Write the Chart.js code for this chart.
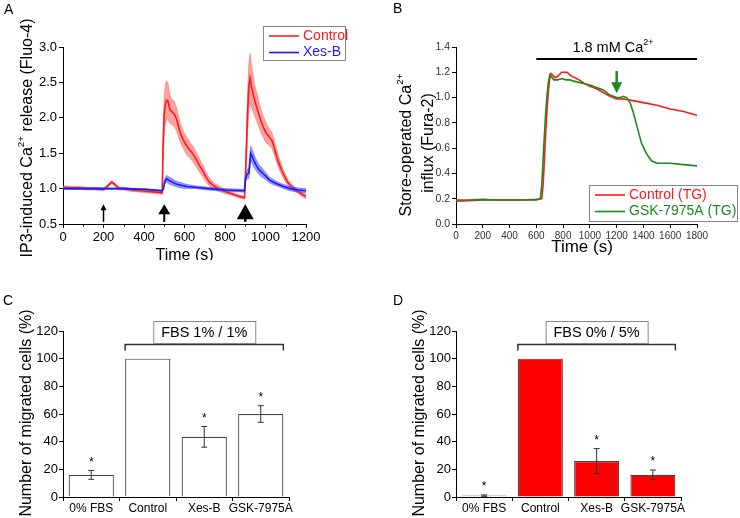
<!DOCTYPE html>
<html>
<head>
<meta charset="utf-8">
<script src="https://cdn.jsdelivr.net/npm/chart.js@4.4.1/dist/chart.umd.min.js"></script>
<style>
  body { margin: 0; background: #fff; }
  #wrap { position: relative; width: 740px; height: 518px; }
  canvas { position: absolute; }
</style>
</head>
<body>
<div id="wrap">
  <canvas id="chartA" width="370" height="260" style="left:0;top:0"></canvas>
  <canvas id="chartB" width="370" height="260" style="left:370px;top:0"></canvas>
  <canvas id="chartC" width="370" height="258" style="left:0;top:260px"></canvas>
  <canvas id="chartD" width="370" height="258" style="left:370px;top:260px"></canvas>
</div>
<script>
const FONT = '"Liberation Sans", Arial, Helvetica, sans-serif';

// ---------- Panel A : IP3-induced release ----------
const timeCtrlA = [0, 40, 80, 120, 160, 200, 215, 228, 240, 252, 265, 280, 300, 340, 380, 420, 460, 490,
  494, 500, 506, 512, 518, 525, 532, 540, 550, 561, 570, 580, 592, 605, 617, 630, 644, 660, 677, 690,
  705, 718, 735, 750, 770, 790, 810, 830, 850, 870, 896,
  900, 906, 912, 918, 924, 930, 938, 946, 956, 966, 978, 989, 1000, 1010, 1021, 1032, 1043, 1055,
  1066, 1077, 1088, 1100, 1110, 1121, 1140, 1160, 1180, 1200];
const ctrlA = [1.02, 1.01, 1.01, 1.00, 1.00, 0.99, 1.02, 1.06, 1.09, 1.07, 1.03, 1.00, 1.00, 0.98, 0.97, 0.96, 0.95, 0.94,
  1.60, 2.05, 2.20, 2.25, 2.24, 2.15, 2.10, 2.08, 2.05, 1.98, 1.88, 1.78, 1.70, 1.63, 1.58, 1.53, 1.48, 1.40, 1.31, 1.25,
  1.17, 1.11, 1.06, 1.03, 1.00, 0.97, 0.95, 0.93, 0.91, 0.89, 0.87,
  1.10, 1.60, 2.10, 2.45, 2.56, 2.45, 2.35, 2.25, 2.16, 2.06, 1.95, 1.87, 1.80, 1.76, 1.72, 1.68, 1.58, 1.46,
  1.36, 1.28, 1.21, 1.14, 1.09, 1.05, 1.00, 0.96, 0.92, 0.89];
const ctrlErrA = [.02, .02, .02, .02, .02, .02, .02, .02, .02, .02, .02, .02, .02, .02, .02, .02, .02, .02,
  .20, .25, .27, .27, .25, .22, .18, .18, .18, .16, .15, .13, .12, .12, .12, .11, .11, .10, .09, .08,
  .07, .06, .05, .04, .04, .03, .03, .02, .02, .02, .02,
  .10, .20, .28, .32, .35, .30, .25, .22, .20, .18, .16, .15, .14, .13, .12, .11, .10, .09,
  .08, .07, .06, .05, .04, .04, .03, .03, .03, .03];

const timeXesA = [0, 100, 200, 300, 400, 490, 496, 502, 512, 520, 535, 555, 578, 610, 650, 718, 800, 896,
  900, 908, 918, 922, 927, 935, 945, 956, 967, 978, 989, 1000, 1020, 1040, 1055, 1080, 1100, 1121, 1160, 1200];
const xesA = [1.00, 1.00, 1.00, 1.00, 0.99, 0.97, 1.00, 1.10, 1.14, 1.12, 1.10, 1.07, 1.05, 1.03, 1.02, 1.00, 0.98, 0.97,
  1.12, 1.20, 1.22, 1.35, 1.50, 1.45, 1.38, 1.32, 1.27, 1.24, 1.21, 1.18, 1.12, 1.09, 1.07, 1.04, 1.02, 1.00, 0.98, 0.97];
const xesErrA = [.01, .01, .01, .01, .01, .01, .02, .04, .05, .05, .05, .04, .04, .03, .02, .02, .02, .02,
  .04, .06, .08, .10, .10, .10, .09, .08, .07, .07, .06, .05, .04, .04, .03, .03, .03, .03, .03, .03];

const arrowTimesA = [200, 500, 900];

// ---------- Panel B : store-operated influx ----------
const timeCtrlB = [0, 100, 200, 300, 400, 500, 600, 640, 650, 660, 670, 680, 690, 700, 710, 720, 735, 750, 770, 790,
  810, 830, 850, 880, 920, 960, 1000, 1050, 1100, 1150, 1200, 1250, 1300, 1400, 1500, 1600, 1700, 1800];
const ctrlB = [0.18, 0.185, 0.19, 0.19, 0.19, 0.19, 0.19, 0.20, 0.30, 0.50, 0.72, 0.90, 1.05, 1.15, 1.19, 1.18, 1.16, 1.16, 1.18, 1.20,
  1.20, 1.20, 1.18, 1.16, 1.14, 1.11, 1.09, 1.07, 1.04, 1.01, 0.99, 0.99, 0.98, 0.96, 0.94, 0.91, 0.89, 0.86];
const timeGskB = [0, 100, 200, 300, 400, 500, 600, 630, 640, 650, 660, 670, 680, 690, 700, 715, 730, 760, 790, 820,
  850, 880, 920, 960, 1000, 1050, 1100, 1150, 1200, 1230, 1250, 1275, 1300, 1325, 1350, 1385, 1420, 1460, 1500,
  1550, 1600, 1700, 1800];
const gskB = [0.19, 0.19, 0.195, 0.19, 0.19, 0.19, 0.195, 0.20, 0.30, 0.50, 0.70, 0.88, 1.02, 1.12, 1.18, 1.16, 1.14, 1.14, 1.15, 1.14,
  1.14, 1.13, 1.12, 1.11, 1.10, 1.08, 1.06, 1.02, 1.00, 1.00, 1.01, 1.00, 0.96, 0.88, 0.78, 0.64, 0.56, 0.50, 0.48,
  0.48, 0.48, 0.47, 0.46];
const caBarB = [600, 1800, 1.305];   // start, end, level
const arrowB = [1200, 1.21, 1.035];  // time, top, tip

// ---------- Panels C / D : migration ----------
const groups = ['0% FBS', 'Control', 'Xes-B', 'GSK-7975A'];
const migC = [16, 100, 43.5, 60];
const migErrC = [3.2, 0, 7.5, 6];
const migD = [1, 100, 26, 16];
const migErrD = [0.5, 0, 9, 3.5];
const starred = [true, false, true, true];

function pts(xs, ys) { return xs.map((x, i) => ({ x: x, y: ys[i] })); }
function band(xs, ys, es, s) { return xs.map((x, i) => ({ x: x, y: ys[i] + s * es[i] })); }

function rich(ctx, segs, x, y, size, color, align) {
  const sup = size * 0.62;
  let w = 0;
  segs.forEach(s => { ctx.font = (s[1] ? sup : size) + 'px ' + FONT; w += ctx.measureText(s[0]).width; });
  let cx = align === 'left' ? x : x - w / 2;
  ctx.fillStyle = color; ctx.textAlign = 'left'; ctx.textBaseline = 'middle';
  segs.forEach(s => {
    ctx.font = (s[1] ? sup : size) + 'px ' + FONT;
    ctx.fillText(s[0], cx, s[1] ? y - size * 0.4 : y);
    cx += ctx.measureText(s[0]).width;
  });
}
function richV(ctx, segs, x, y, size) {
  ctx.save(); ctx.translate(x, y); ctx.rotate(-Math.PI / 2);
  rich(ctx, segs, 0, 0, size, '#000', 'center');
  ctx.restore();
}
function letter(ctx, t, x, y) {
  ctx.font = '14px ' + FONT; ctx.fillStyle = '#000'; ctx.textAlign = 'left'; ctx.textBaseline = 'top';
  ctx.fillText(t, x, y);
}
function legendBox(ctx, x, y, w, h, items) {
  ctx.fillStyle = '#fff'; ctx.fillRect(x, y, w, h);
  ctx.strokeStyle = '#888'; ctx.lineWidth = 1; ctx.strokeRect(x + 0.5, y + 0.5, w, h);
  items.forEach((it, i) => {
    const ly = y + 10 + i * 16.5;
    ctx.strokeStyle = it[1]; ctx.lineWidth = 1.6;
    ctx.beginPath(); ctx.moveTo(x + 6, ly); ctx.lineTo(x + 36, ly); ctx.stroke();
    ctx.font = '14px ' + FONT; ctx.fillStyle = it[1]; ctx.textAlign = 'left'; ctx.textBaseline = 'middle';
    ctx.fillText(it[0], x + 40, ly);
  });
}

function linScale(min, max, step, size, color, dec, fit, isY) {
  return {
    type: 'linear', min: min, max: max,
    border: { color: '#000', width: 1 },
    grid: { drawOnChartArea: false, drawTicks: true, tickLength: 4, color: '#000' },
    ticks: {
      stepSize: step, autoSkip: false, maxRotation: 0, minRotation: 0, padding: 2,
      color: color, font: { family: FONT, size: size },
      callback: v => v.toFixed(dec)
    },
    afterFit: s => { if (isY) s.width = fit; else s.height = fit; }
  };
}

// ---------- Chart A ----------
const extrasA = {
  id: 'extrasA',
  afterDraw(chart) {
    const ctx = chart.ctx, xs = chart.scales.x, ys = chart.scales.y, a = chart.chartArea;
    ctx.save();
    // minor ticks
    ctx.strokeStyle = '#000'; ctx.lineWidth = 1;
    for (let t = 100; t < 1200; t += 200) {
      const x = Math.round(xs.getPixelForValue(t)) + 0.5;
      ctx.beginPath(); ctx.moveTo(x, a.bottom); ctx.lineTo(x, a.bottom + 2.5); ctx.stroke();
    }
    // stimulus arrows
    const sizes = [[6, 6, 1.5], [10, 12, 2], [15, 17, 2.5]];
    const tip = ys.getPixelForValue(0.78), base = ys.getPixelForValue(0.53);
    arrowTimesA.forEach((t, i) => {
      const x = xs.getPixelForValue(t), h = sizes[i][0], w = sizes[i][1];
      ctx.strokeStyle = '#000'; ctx.fillStyle = '#000'; ctx.lineWidth = sizes[i][2];
      ctx.beginPath(); ctx.moveTo(x, base); ctx.lineTo(x, tip + h - 1); ctx.stroke();
      ctx.beginPath(); ctx.moveTo(x, tip); ctx.lineTo(x - w / 2, tip + h); ctx.lineTo(x + w / 2, tip + h);
      ctx.closePath(); ctx.fill();
    });
    legendBox(ctx, 263, 26, 82, 34, [['Control', '#ff1a1a'], ['Xes-B', '#1a1aff']]);
    richV(ctx, [['IP3-induced Ca', 0], ['2+', 1], [' release (Fluo-4)', 0]], 28, 138, 16);
    rich(ctx, [['Time (s)', 0]], (a.left + a.right) / 2, 256, 16, '#000', 'center');
    letter(ctx, 'A', 4, 3);
    ctx.restore();
  }
};

new Chart(document.getElementById('chartA'), {
  type: 'line',
  data: {
    datasets: [
      { data: pts(timeXesA, xesA), borderColor: '#1a1aff', borderWidth: 1.6, pointRadius: 0, fill: false },
      { data: band(timeXesA, xesA, xesErrA, 1), borderWidth: 0.6, borderColor: 'rgba(80,80,255,0.8)', pointRadius: 0, fill: false },
      { data: band(timeXesA, xesA, xesErrA, -1), borderWidth: 0.6, borderColor: 'rgba(80,80,255,0.8)', pointRadius: 0,
        fill: { target: 1 }, backgroundColor: 'rgba(70,70,255,0.55)' },
      { data: pts(timeCtrlA, ctrlA), borderColor: '#ff1a1a', borderWidth: 1.6, pointRadius: 0, fill: false },
      { data: band(timeCtrlA, ctrlA, ctrlErrA, 1), borderWidth: 0.6, borderColor: 'rgba(255,80,80,0.8)', pointRadius: 0, fill: false },
      { data: band(timeCtrlA, ctrlA, ctrlErrA, -1), borderWidth: 0.6, borderColor: 'rgba(255,80,80,0.8)', pointRadius: 0,
        fill: { target: 4 }, backgroundColor: 'rgba(255,70,70,0.5)' }
    ]
  },
  options: {
    responsive: false, animation: false,
    layout: { padding: { left: 0, top: 47, right: 64, bottom: 0 } },
    plugins: { legend: { display: false }, tooltip: { enabled: false } },
    scales: {
      x: linScale(0, 1200, 200, 13, '#000', 0, 36, false),
      y: linScale(0.5, 3.0, 0.5, 13, '#000', 1, 63, true)
    }
  },
  plugins: [extrasA]
});

// ---------- Chart B ----------
const extrasB = {
  id: 'extrasB',
  afterDraw(chart) {
    const ctx = chart.ctx, xs = chart.scales.x, ys = chart.scales.y, a = chart.chartArea;
    ctx.save();
    const yb = ys.getPixelForValue(caBarB[2]);
    ctx.strokeStyle = '#000'; ctx.lineWidth = 2;
    ctx.beginPath(); ctx.moveTo(xs.getPixelForValue(caBarB[0]), yb); ctx.lineTo(xs.getPixelForValue(caBarB[1]), yb); ctx.stroke();
    rich(ctx, [['1.8 mM Ca', 0], ['2+', 1]], 243, yb - 11, 14.5, '#000', 'center');
    // arrow
    const ax = xs.getPixelForValue(arrowB[0]), top = ys.getPixelForValue(arrowB[1]), tip = ys.getPixelForValue(arrowB[2]);
    ctx.strokeStyle = '#1c8a1c'; ctx.fillStyle = '#1c8a1c'; ctx.lineWidth = 2.5;
    ctx.beginPath(); ctx.moveTo(ax, top); ctx.lineTo(ax, tip - 9); ctx.stroke();
    ctx.beginPath(); ctx.moveTo(ax, tip); ctx.lineTo(ax - 5.5, tip - 11); ctx.lineTo(ax + 5.5, tip - 11); ctx.closePath(); ctx.fill();
    legendBox(ctx, 219, 185, 148, 36, [['Control (TG)', '#ff1a1a'], ['GSK-7975A (TG)', '#1c8a1c']]);
    richV(ctx, [['Store-operated Ca', 0], ['2+', 1]], 36.5, 145, 16);
    richV(ctx, [['influx (Fura-2)', 0]], 59, 143, 16);
    rich(ctx, [['Time (s)', 0]], 212, 247, 17, '#000', 'center');
    letter(ctx, 'B', 23, 2);
    ctx.restore();
  }
};

new Chart(document.getElementById('chartB'), {
  type: 'line',
  data: {
    datasets: [
      { data: pts(timeGskB, gskB), borderColor: '#1c8a1c', borderWidth: 1.6, pointRadius: 0, fill: false },
      { data: pts(timeCtrlB, ctrlB), borderColor: '#ff1a1a', borderWidth: 1.6, pointRadius: 0, fill: false }
    ]
  },
  options: {
    responsive: false, animation: false,
    layout: { padding: { left: 0, top: 47, right: 43, bottom: 0 } },
    plugins: { legend: { display: false }, tooltip: { enabled: false } },
    scales: {
      x: linScale(0, 1800, 200, 10, '#333', 0, 36, false),
      y: linScale(0, 1.4, 0.2, 10.5, '#333', 1, 86, true)
    }
  },
  plugins: [extrasB]
});

// ---------- Charts C / D ----------
function migChart(id, vals, errs, fills, boxText, yTitleX, letterX) {
  const extras = {
    id: 'extras' + id,
    afterDraw(chart) {
      const ctx = chart.ctx, ys = chart.scales.y, a = chart.chartArea;
      const bars = chart.getDatasetMeta(0).data;
      ctx.save();
      ctx.strokeStyle = '#333'; ctx.lineWidth = 1;
      bars.forEach((b, i) => {
        if (errs[i] > 0) {
          const hi = ys.getPixelForValue(vals[i] + errs[i]), lo = ys.getPixelForValue(vals[i] - errs[i]);
          ctx.beginPath();
          ctx.moveTo(b.x, hi); ctx.lineTo(b.x, lo);
          ctx.moveTo(b.x - 3, hi); ctx.lineTo(b.x + 3, hi);
          ctx.moveTo(b.x - 3, lo); ctx.lineTo(b.x + 3, lo);
          ctx.stroke();
        }
        if (starred[i]) {
          const hi = ys.getPixelForValue(vals[i] + errs[i]);
          ctx.font = '12px ' + FONT; ctx.fillStyle = '#000'; ctx.textAlign = 'center'; ctx.textBaseline = 'middle';
          ctx.fillText('*', b.x, hi - 8);
        }
      });
      // bracket
      const x0 = bars[1].x - bars[1].width / 2, x1 = bars[3].x + bars[3].width / 2, yb = a.top + 13.5;
      ctx.strokeStyle = '#333'; ctx.lineWidth = 1.5;
      ctx.beginPath(); ctx.moveTo(x0, yb + 6); ctx.lineTo(x0, yb); ctx.lineTo(x1, yb); ctx.lineTo(x1, yb + 6); ctx.stroke();
      const cx = (x0 + x1) / 2;
      ctx.fillStyle = '#fff'; ctx.fillRect(cx - 51, a.top - 10, 102, 22);
      ctx.strokeStyle = '#888'; ctx.lineWidth = 1; ctx.strokeRect(cx - 51 + 0.5, a.top - 10 + 0.5, 102, 22);
      rich(ctx, [[boxText, 0]], cx, a.top + 1.5, 14.5, '#000', 'center');
      richV(ctx, [['Number of migrated cells (%)', 0]], yTitleX, (a.top + a.bottom) / 2 - 1, 16);
      letter(ctx, id, letterX, 34);
      ctx.restore();
    }
  };
  const leftW = id === 'C' ? 63 : 86;
  const rightPad = id === 'C' ? 81 : 59;
  const yS = linScale(0, 120, 20, 13, '#000', 0, leftW, true);
  yS.ticks.padding = 1;
  new Chart(document.getElementById('chart' + id), {
    type: 'bar',
    data: {
      labels: groups,
      datasets: [{
        data: vals, backgroundColor: fills, borderColor: '#444', borderWidth: 1.2,
        categoryPercentage: 1.0, barPercentage: 0.8
      }]
    },
    options: {
      responsive: false, animation: false,
      layout: { padding: { left: 0, top: 71, right: rightPad, bottom: 0 } },
      plugins: { legend: { display: false }, tooltip: { enabled: false } },
      scales: {
        x: {
          border: { color: '#000', width: 1 },
          grid: { drawOnChartArea: false, drawTicks: true, tickLength: 4, color: '#000', offset: true },
          ticks: { color: '#000', font: { family: FONT, size: 12 }, padding: 0, maxRotation: 0, autoSkip: false },
          afterFit: s => { s.height = 21; }
        },
        y: yS
      }
    },
    plugins: [extras]
  });
}

migChart('C', migC, migErrC, ['#fff', '#fff', '#fff', '#fff'], 'FBS 1% / 1%', 27, 3);
migChart('D', migD, migErrD, ['#ccc', '#ff0000', '#ff0000', '#ff0000'], 'FBS 0% / 5%', 50, 23);
</script>
</body>
</html>
